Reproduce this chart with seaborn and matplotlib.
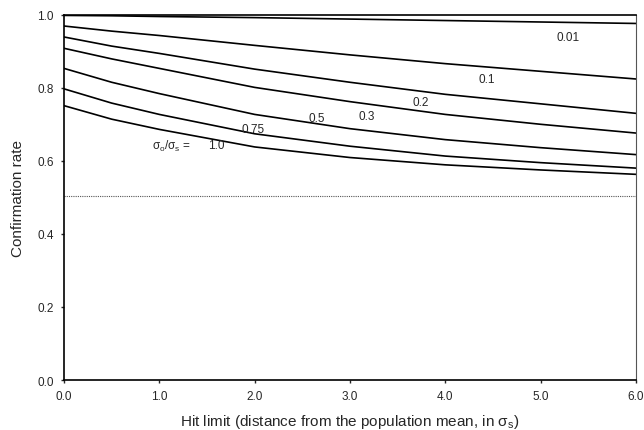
import numpy as np
import pandas as pd
import matplotlib
matplotlib.use("Agg")
import matplotlib.pyplot as plt
import seaborn as sns

# hit limit (in sigma_s) where the curves were read
hit_limit = [0.0, 0.5, 1.0, 2.0, 3.0, 4.0, 5.0, 6.0]

# confirmation rate for each sigma_o/sigma_s ratio
rate_001 = [0.998, 0.997, 0.995, 0.992, 0.988, 0.984, 0.980, 0.976]
rate_01 = [0.969, 0.955, 0.943, 0.916, 0.890, 0.866, 0.845, 0.824]
rate_02 = [0.939, 0.914, 0.894, 0.851, 0.815, 0.782, 0.756, 0.730]
rate_03 = [0.908, 0.879, 0.853, 0.801, 0.762, 0.727, 0.700, 0.676]
rate_05 = [0.853, 0.815, 0.784, 0.727, 0.688, 0.658, 0.636, 0.617]
rate_075 = [0.797, 0.758, 0.727, 0.674, 0.640, 0.613, 0.595, 0.580]
rate_10 = [0.751, 0.714, 0.686, 0.638, 0.609, 0.589, 0.575, 0.563]

ratios = ["0.01", "0.1", "0.2", "0.3", "0.5", "0.75", "1.0"]
all_rates = [rate_001, rate_01, rate_02, rate_03, rate_05, rate_075, rate_10]

chance_level = 0.505

# curve labels (x, y) in data units
label_pos = {
    "0.01": (5.29, 0.939),
    "0.1": (4.44, 0.824),
    "0.2": (3.74, 0.761),
    "0.3": (3.18, 0.723),
    "0.5": (2.65, 0.717),
    "0.75": (1.98, 0.687),
    "1.0": (1.60, 0.643),
}

rows = []
for r, vals in zip(ratios, all_rates):
    for x, y in zip(hit_limit, vals):
        rows.append({"hit": x, "rate": y, "ratio": r})
df = pd.DataFrame(rows)

sns.set_style("ticks")
plt.rcParams["font.family"] = ["Liberation Sans", "DejaVu Sans"]
plt.rcParams["mathtext.fontset"] = "custom"
plt.rcParams["mathtext.rm"] = "Liberation Sans"
plt.rcParams["mathtext.it"] = "Liberation Sans"

fig = plt.figure(figsize=(6.44, 4.31), dpi=100)
ax = fig.add_axes([0.0994, 0.116, 0.888, 0.8476])

sns.lineplot(data=df, x="hit", y="rate", hue="ratio",
             palette=["black"] * len(ratios), linewidth=1.2,
             legend=False, ax=ax)

ax.axhline(chance_level, color="#555555", linestyle=(0, (1, 1)), linewidth=0.8)

for r in ratios:
    x, y = label_pos[r]
    ax.text(x, y, r, fontsize=8.5, ha="center", va="center")
ax.text(1.13, 0.643, r"$\mathregular{\sigma_o/\sigma_s}$ =", fontsize=8.5,
        ha="center", va="center")

ax.set_xlim(0, 6)
ax.set_ylim(0, 1.0)
ax.set_xticks(np.arange(0, 6.1, 1.0))
ax.set_yticks(np.arange(0, 1.01, 0.2))
ax.set_xticklabels([f"{v:.1f}" for v in np.arange(0, 6.1, 1.0)], fontsize=8.5)
ax.set_yticklabels([f"{v:.1f}" for v in np.arange(0, 1.01, 0.2)], fontsize=8.5)
ax.tick_params(direction="out", length=2.5, width=1, pad=5)

ax.set_xlabel(r"Hit limit (distance from the population mean, in $\mathregular{\sigma_s}$)",
              fontsize=11, labelpad=7)
ax.set_ylabel("Confirmation rate", fontsize=11, labelpad=9)

for side in ["left", "bottom", "top"]:
    ax.spines[side].set_linewidth(1.2)
    ax.spines[side].set_color("black")
ax.spines["right"].set_linestyle((0, (1, 1)))
ax.spines["right"].set_linewidth(0.8)
ax.spines["right"].set_color("#555555")

fig.savefig("out.png", dpi=100)
